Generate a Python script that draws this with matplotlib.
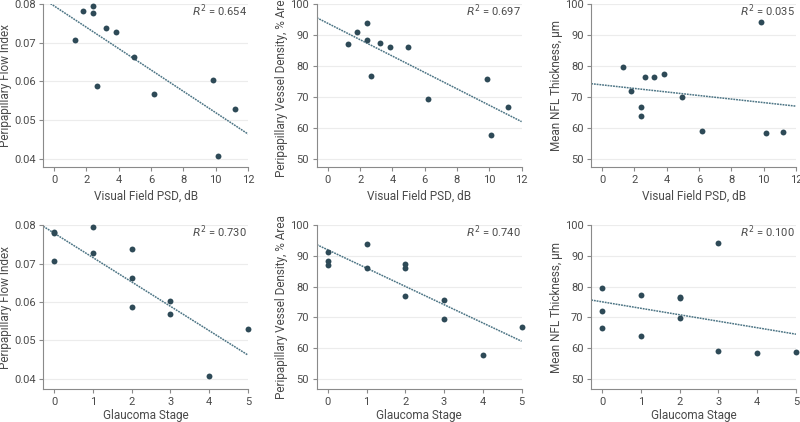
import numpy as np
import matplotlib
matplotlib.use("Agg")
import matplotlib.pyplot as plt

# data (12 eyes)
psd = [1.28, 1.81, 2.40, 2.42, 2.67, 3.23, 3.84, 4.95, 6.21, 9.84, 10.13, 11.18]
stage = [0, 0, 1, 0, 2, 2, 1, 2, 3, 3, 4, 5]
flow_index = [0.0707, 0.0783, 0.0796, 0.0778, 0.0588, 0.0738, 0.0728, 0.0663, 0.0568, 0.0603, 0.0407, 0.0529]
vessel_density = [87.1, 91.1, 94.0, 88.3, 76.9, 87.5, 86.2, 86.0, 69.4, 75.8, 57.8, 66.8]
nfl = [79.6, 72.0, 63.9, 66.7, 76.6, 76.3, 77.3, 69.9, 59.0, 94.2, 58.4, 58.7]

r2_psd = ["0.654", "0.697", "0.035"]
r2_stage = ["0.730", "0.740", "0.100"]
ylabels = ["Peripapillary Flow Index", "Peripapillary Vessel Density, % Area", "Mean NFL Thickness, µm"]

plt.rcParams['font.family'] = ['Roboto', 'DejaVu Sans']

txt = '#4a4a4a'
dot = '#2e4a57'
fit_col = '#4d7585'

fig = plt.figure(figsize=(8, 4.22), dpi=100)

lefts = [0.054, 0.396, 0.739]
width = 0.256
rows = [(0.6043, 0.386), (0.0782, 0.3886)]

ys = [flow_index, vessel_density, nfl]
yticks = [[0.04, 0.05, 0.06, 0.07, 0.08], [50, 60, 70, 80, 90, 100], [50, 60, 70, 80, 90, 100]]
ylims_top = [(0.0379, 0.080), (47.4, 100), (47.4, 100)]
ylims_bot = [(0.0374, 0.080), (46.8, 100), (46.8, 100)]

for r, (bottom, h) in enumerate(rows):
    for c in range(3):
        ax = fig.add_axes([lefts[c], bottom, width, h])
        if r == 0:
            x = np.array(psd)
            xlim = (-0.68, 12)
            xt = [0, 2, 4, 6, 8, 10, 12]
            xlabel = "Visual Field PSD, dB"
            r2 = r2_psd[c]
            ylim = ylims_top[c]
            lpad = 4
        else:
            x = np.array(stage)
            xlim = (-0.285, 5)
            xt = [0, 1, 2, 3, 4, 5]
            xlabel = "Glaucoma Stage"
            r2 = r2_stage[c]
            ylim = ylims_bot[c]
            lpad = 2
        y = np.array(ys[c])

        # least squares line across the axis range
        m, b = np.polyfit(x, y, 1)
        xx = np.array(xlim)
        ax.plot(xx, m * xx + b, color=fit_col, lw=1.1, ls=(0, (1.2, 0.6)), zorder=2)
        ax.scatter(x, y, s=18, color=dot, zorder=3, clip_on=False, linewidths=0)

        ax.set_xlim(xlim)
        ax.set_ylim(ylim)
        ax.set_xticks(xt)
        ax.set_yticks(yticks[c])
        if c == 0:
            ax.set_yticklabels(["%.2f" % v for v in yticks[c]])
        ax.grid(axis='y', color='#ececec', lw=0.8)
        ax.set_axisbelow(True)
        for s in ['top', 'right']:
            ax.spines[s].set_visible(False)
        for s in ['left', 'bottom']:
            ax.spines[s].set_color('#8a8a8a')
            ax.spines[s].set_linewidth(0.8)
        ax.tick_params(colors='#8a8a8a', labelcolor=txt, labelsize=8, length=3, width=0.8, pad=2.5)
        ax.set_xlabel(xlabel, color=txt, fontsize=8.5, labelpad=lpad)
        ax.set_ylabel(ylabels[c], color=txt, fontsize=8.5, labelpad=1.5)
        ax.text(0.995, 0.96, "$R^2$ = " + r2, transform=ax.transAxes, ha='right', va='center',
                color=txt, fontsize=8)

fig.savefig("out.png", dpi=100)
